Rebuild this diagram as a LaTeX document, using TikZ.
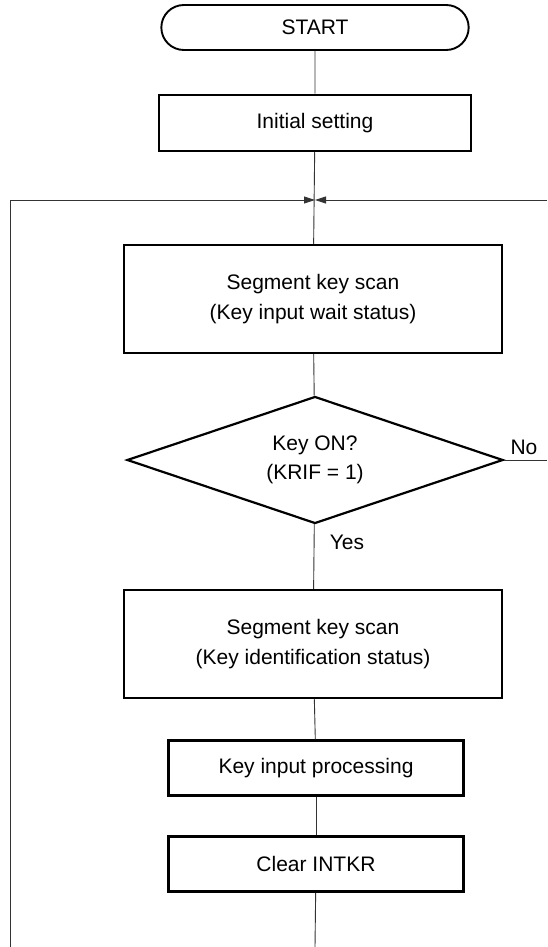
\documentclass[tikz,border=0pt]{standalone}
\usepackage{fontspec}
\setmainfont{Liberation Sans}
\usetikzlibrary{arrows.meta,positioning,shapes.geometric,shapes.misc}

\begin{document}
\begin{tikzpicture}[x=1pt, y=-1pt,
  box/.style={draw, line width=2.5pt, minimum width=295pt, minimum height=55pt, align=center, font=\fontsize{21}{30}\selectfont},
  widebox/.style={box, minimum width=378pt, minimum height=108pt},
  term/.style={box, rounded rectangle, minimum width=314pt, minimum height=45pt, line width=1.9pt},
  decide/.style={draw, diamond, aspect=3, line width=2.2pt, minimum width=376pt, minimum height=127pt, inner sep=0pt, align=center, font=\fontsize{21}{29}\selectfont},
  lbl/.style={font=\fontsize{21}{25}\selectfont, inner sep=0pt},
  flow/.style={line width=0.9pt, black!80},
  tip/.style={-{Triangle[length=11pt,width=7pt]}}]
  \useasboundingbox (0,0) rectangle (547,947);
  \node[term] (start) at (315,27.5) {START};
  \node[box, minimum width=312pt, minimum height=56pt] (init) at (315,123) {Initial setting};
  \node[widebox] (scanwait) at (313,299) {Segment key scan\\(Key input wait status)};
  \node[decide] (keyon) at (315,460) {Key ON?\\(KRIF = 1)};
  \node[widebox] (scanid) at (313,644) {Segment key scan\\(Key identification status)};
  \node[box] (proc) at (316,768) {Key input processing};
  \node[box] (clear) at (316,864) {Clear INTKR};
  \node[lbl] (no) at (524,447) {No};
  \node[lbl] (yes) at (347,542) {Yes};
  \coordinate (merge) at (315,200);
  \coordinate (loopend) at (10.5,947);
  \coordinate (noret) at (547,200);
  \coordinate (noout) at (547,460);
  \coordinate (down) at (315,947);
  \draw[flow] (start) -- (init);
  \draw[flow] (init) -- (scanwait);
  \draw[flow] (scanwait) -- (keyon);
  \draw[flow] (keyon) -- (scanid);
  \draw[flow] (scanid) -- (proc);
  \draw[flow] (proc) -- (clear);
  \draw[flow] (clear) -- (down);
  \draw[flow] (keyon.east) -- (noout);
  \draw[flow, tip] (loopend) |- (merge);
  \draw[flow, tip] (noret) -- (merge);
\end{tikzpicture}
\end{document}
